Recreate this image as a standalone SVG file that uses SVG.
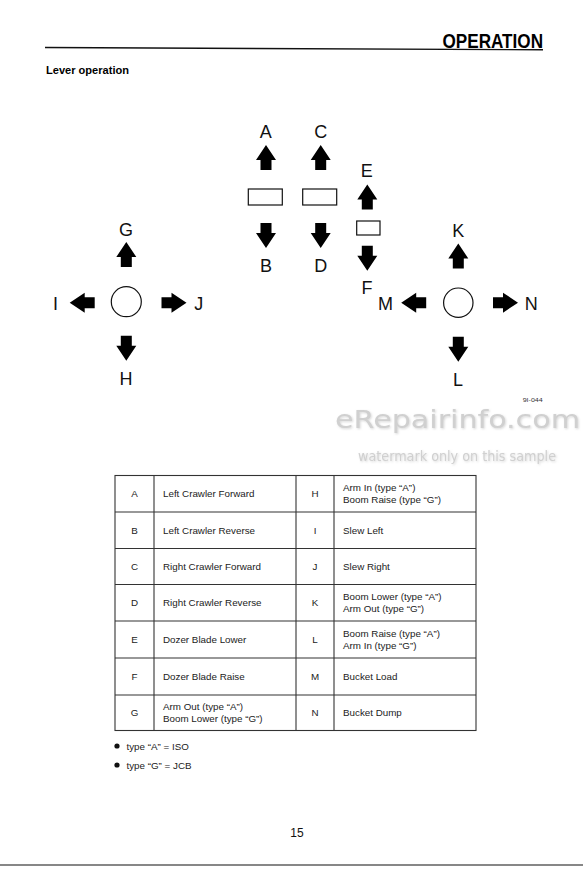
<svg xmlns="http://www.w3.org/2000/svg" width="583" height="873" viewBox="0 0 583 873">
<style>
.lbl{font-family:"Liberation Sans",Arial,sans-serif;font-size:18px;fill:#111;text-anchor:middle}
.cell{font-family:"Liberation Sans",Arial,sans-serif;font-size:9.8px;fill:#222}
.key{font-family:"Liberation Sans",Arial,sans-serif;font-size:9.8px;fill:#222;text-anchor:middle}
.box{fill:#fff;stroke:#111;stroke-width:1.2}
.grid{stroke:#333;stroke-width:1.1;fill:none}
.arr{fill:#000}
.wm{font-family:"DejaVu Sans",sans-serif;fill:#d0d0d0;filter:url(#soft)}
</style>
<defs>
<path id="up" d="M0,-12.5 L10,2.5 L5.5,2.5 L5.5,12.5 L-5.5,12.5 L-5.5,2.5 L-10,2.5 Z"/>
<filter id="soft" x="-5%" y="-20%" width="110%" height="140%">
<feDropShadow dx="1" dy="1" stdDeviation="0.8" flood-color="#bbbbbb" flood-opacity="0.6"/>
</filter>
</defs>
<rect width="583" height="873" fill="#fff"/>

<g id="header">
<line x1="45" y1="47.5" x2="543" y2="49.8" stroke="#111" stroke-width="1.4"/>
<text x="442.5" y="48" font-family="Liberation Sans,Arial,sans-serif" font-weight="bold" font-size="19.5" textLength="100.5" lengthAdjust="spacingAndGlyphs" fill="#000">OPERATION</text>
<text x="46" y="74" font-family="Liberation Sans,Arial,sans-serif" font-weight="bold" font-size="11" textLength="83" lengthAdjust="spacingAndGlyphs" fill="#000">Lever operation</text>
</g>

<g id="lever-left-crawler">
<rect class="box" x="248.3" y="189" width="34" height="16"/>
<use href="#up" class="arr" transform="translate(266,157.5)"/>
<use href="#up" class="arr" transform="translate(266,235.5) rotate(180)"/>
<text class="lbl" x="265.7" y="138">A</text>
<text class="lbl" x="266" y="272">B</text>
</g>

<g id="lever-right-crawler">
<rect class="box" x="302.7" y="189" width="34" height="16"/>
<use href="#up" class="arr" transform="translate(320.7,157.5)"/>
<use href="#up" class="arr" transform="translate(320.7,235.5) rotate(180)"/>
<text class="lbl" x="320.7" y="138">C</text>
<text class="lbl" x="320.7" y="272">D</text>
</g>

<g id="lever-dozer">
<rect class="box" x="356.7" y="221" width="23.3" height="14"/>
<use href="#up" class="arr" transform="translate(367.3,197)"/>
<use href="#up" class="arr" transform="translate(367.3,258.3) rotate(180)"/>
<text class="lbl" x="366.7" y="177">E</text>
<text class="lbl" x="367" y="294">F</text>
</g>

<g id="lever-left-joystick">
<circle cx="126.3" cy="301.7" r="15" fill="#fff" stroke="#111" stroke-width="1.2"/>
<use href="#up" class="arr" transform="translate(126.3,254.5)"/>
<use href="#up" class="arr" transform="translate(126.3,348.3) rotate(180)"/>
<use href="#up" class="arr" transform="translate(82.2,302.7) rotate(-90)"/>
<use href="#up" class="arr" transform="translate(174,302.7) rotate(90)"/>
<text class="lbl" x="126" y="236">G</text>
<text class="lbl" x="126" y="385">H</text>
<text class="lbl" x="55.6" y="310">I</text>
<text class="lbl" x="198.7" y="310">J</text>
</g>

<g id="lever-right-joystick">
<circle cx="458.3" cy="302.7" r="14.7" fill="#fff" stroke="#111" stroke-width="1.2"/>
<use href="#up" class="arr" transform="translate(458.3,256)"/>
<use href="#up" class="arr" transform="translate(458.3,349.2) rotate(180)"/>
<use href="#up" class="arr" transform="translate(413.7,302.7) rotate(-90)"/>
<use href="#up" class="arr" transform="translate(505.5,302.7) rotate(90)"/>
<text class="lbl" x="458.3" y="236.7">K</text>
<text class="lbl" x="458" y="386">L</text>
<text class="lbl" x="385.5" y="310">M</text>
<text class="lbl" x="531.2" y="310">N</text>
</g>

<g id="figure-code">
<text x="522.7" y="401.5" font-family="Liberation Sans,Arial,sans-serif" font-size="5" textLength="20" lengthAdjust="spacingAndGlyphs" fill="#333">9I-044</text>
</g>

<g id="watermark">
<text class="wm" x="335" y="427.5" font-size="25" textLength="245" lengthAdjust="spacingAndGlyphs">eRepairinfo.com</text>
<text class="wm" x="358" y="461.3" font-size="13.5" textLength="198" lengthAdjust="spacingAndGlyphs">watermark only on this sample</text>
</g>

<g id="table">
<rect class="grid" x="115" y="475.5" width="361" height="255"/>
<line class="grid" x1="154" y1="475.5" x2="154" y2="730.5"/>
<line class="grid" x1="296" y1="475.5" x2="296" y2="730.5"/>
<line class="grid" x1="334" y1="475.5" x2="334" y2="730.5"/>
<line class="grid" x1="115" y1="512" x2="476" y2="512"/>
<line class="grid" x1="115" y1="548.5" x2="476" y2="548.5"/>
<line class="grid" x1="115" y1="584.5" x2="476" y2="584.5"/>
<line class="grid" x1="115" y1="621" x2="476" y2="621"/>
<line class="grid" x1="115" y1="658" x2="476" y2="658"/>
<line class="grid" x1="115" y1="695" x2="476" y2="695"/>

<text class="key" x="134.5" y="497.2">A</text>
<text class="cell" x="163" y="497.2">Left Crawler Forward</text>
<text class="key" x="315" y="497.2">H</text>
<text class="cell" x="343" y="491">Arm In (type “A”)</text>
<text class="cell" x="343" y="503">Boom Raise (type “G”)</text>

<text class="key" x="134.5" y="533.7">B</text>
<text class="cell" x="163" y="533.7">Left Crawler Reverse</text>
<text class="key" x="315" y="533.7">I</text>
<text class="cell" x="343" y="533.7">Slew Left</text>

<text class="key" x="134.5" y="570">C</text>
<text class="cell" x="163" y="570">Right Crawler Forward</text>
<text class="key" x="315" y="570">J</text>
<text class="cell" x="343" y="570">Slew Right</text>

<text class="key" x="134.5" y="606.2">D</text>
<text class="cell" x="163" y="606.2">Right Crawler Reverse</text>
<text class="key" x="315" y="606.2">K</text>
<text class="cell" x="343" y="600">Boom Lower (type “A”)</text>
<text class="cell" x="343" y="612">Arm Out (type “G”)</text>

<text class="key" x="134.5" y="643">E</text>
<text class="cell" x="163" y="643">Dozer Blade Lower</text>
<text class="key" x="315" y="643">L</text>
<text class="cell" x="343" y="636.8">Boom Raise (type “A”)</text>
<text class="cell" x="343" y="648.8">Arm In (type “G”)</text>

<text class="key" x="134.5" y="680">F</text>
<text class="cell" x="163" y="680">Dozer Blade Raise</text>
<text class="key" x="315" y="680">M</text>
<text class="cell" x="343" y="680">Bucket Load</text>

<text class="key" x="134.5" y="716.2">G</text>
<text class="cell" x="163" y="710">Arm Out (type “A”)</text>
<text class="cell" x="163" y="722">Boom Lower (type “G”)</text>
<text class="key" x="315" y="716.2">N</text>
<text class="cell" x="343" y="716.2">Bucket Dump</text>
</g>

<g id="notes">
<circle cx="117" cy="746" r="2.6" fill="#111"/>
<text class="cell" x="126.5" y="749.5">type “A” = ISO</text>
<circle cx="117" cy="765" r="2.6" fill="#111"/>
<text class="cell" x="126.5" y="768.5">type “G” = JCB</text>
</g>

<g id="footer">
<text x="297" y="836.5" font-family="Liberation Sans,Arial,sans-serif" font-size="12" text-anchor="middle" fill="#111">15</text>
<line x1="0" y1="865" x2="583" y2="865" stroke="#111" stroke-width="1.2"/>
</g>

<g id="connectors"/>
</svg>
